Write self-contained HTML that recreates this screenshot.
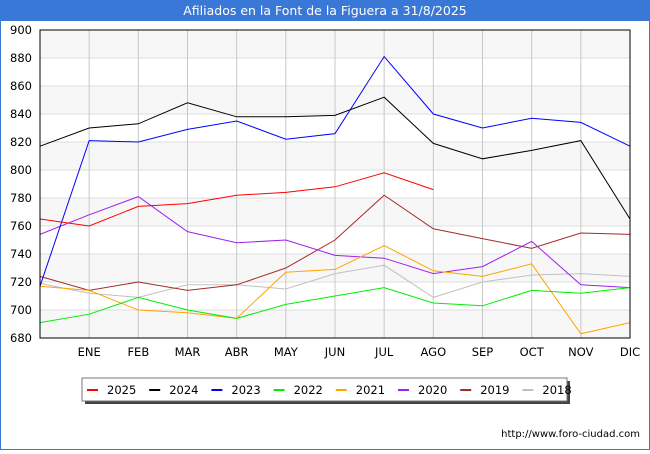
<!DOCTYPE html>
<html><head><meta charset="utf-8"><style>
body{margin:0;background:#fff;}
#wrap{position:relative;width:650px;height:450px;font-family:"DejaVu Sans","Liberation Sans",sans-serif;}
</style></head><body>
<div id="wrap">
<svg id="chart" width="650" height="450" xmlns="http://www.w3.org/2000/svg">
<rect x="0" y="0" width="650" height="450" fill="#fff" stroke="#3a78d8" stroke-width="2"/>
<rect x="0" y="0" width="650" height="21" fill="#3a78d8"/>
<text x="325" y="15" text-anchor="middle" fill="#fff" font-size="12.5">Afiliados en la Font de la Figuera a 31/8/2025</text>
<g id="bands"></g><g id="grid"></g><g id="axes"></g><g id="series"></g>
<rect x="40" y="30" width="590" height="308" fill="none" stroke="#000" stroke-width="1"/>
<rect x="85" y="381" width="485" height="23" fill="#444"/>
<rect x="82" y="378" width="485" height="23" fill="#fff" stroke="#777"/>
<g id="legend"></g>
<text x="640" y="437" text-anchor="end" font-size="10" fill="#000">http://www.foro-ciudad.com</text>
</svg>
</div>
<script>
const months = ["", "ENE","FEB","MAR","ABR","MAY","JUN","JUL","AGO","SEP","OCT","NOV","DIC"];
const yTicks = [680,700,720,740,760,780,800,820,840,860,880,900];
const seriesNames = ["2025","2024","2023","2022","2021","2020","2019","2018"];
const seriesColors = ["#ff0000","#000000","#0000ff","#00ee00","#ffa500","#a020f0","#a52a2a","#c0c0c0"];
const v2025 = [765,760,774,776,782,784,788,798,786];
const v2024 = [817,830,833,848,838,838,839,852,819,808,814,821,765];
const v2023 = [717,821,820,829,835,822,826,881,840,830,837,834,817];
const v2022 = [691,697,709,700,694,704,710,716,705,703,714,712,716];
const v2021 = [717,714,700,698,694,727,729,746,728,724,733,683,691];
const v2020 = [754,768,781,756,748,750,739,737,726,731,749,718,716];
const v2019 = [724,714,720,714,718,730,750,782,758,751,744,755,754];
const v2018 = [719,712,709,718,718,715,726,732,709,720,725,726,724];
const allSeries = [v2025,v2024,v2023,v2022,v2021,v2020,v2019,v2018];

const NS="http://www.w3.org/2000/svg";
const X0=40,X1=630,Y0=338,Y1=30,YMIN=680,YMAX=900;
const xs=i=>X0+(X1-X0)*i/(months.length-1);
const ys=v=>Y0-(v-YMIN)/(YMAX-YMIN)*(Y0-Y1);
function mk(tag,attrs,parent){const e=document.createElementNS(NS,tag);for(const k in attrs)e.setAttribute(k,attrs[k]);document.getElementById(parent).appendChild(e);return e;}

for(let i=0;i<yTicks.length-1;i++){
  if((yTicks.length-2-i)%2===0){
    const b=mk("rect",{x:X0,y:ys(yTicks[i+1]),width:X1-X0,height:ys(yTicks[i])-ys(yTicks[i+1]),fill:"#f7f7f7"},"bands");
    
    
  }
}
yTicks.forEach(t=>{
  const l=mk("line",{x1:X0,x2:X1,y1:ys(t),y2:ys(t),stroke:"#ddd","stroke-width":1},"grid");
  
  
  const tx=mk("text",{x:X0-8,y:ys(t)+4,"text-anchor":"end","font-size":"11.5",fill:"#000"},"axes");
  tx.textContent=t;
  
  
});
months.forEach((m,i)=>{
  if(i===0)return;
  const l=mk("line",{x1:xs(i),x2:xs(i),y1:Y1,y2:Y0,stroke:"#c8c8c8","stroke-width":1},"grid");
  
  
  const tx=mk("text",{x:xs(i),y:356,"text-anchor":"middle","font-size":"11.5",fill:"#000"},"axes");
  tx.textContent=m;
  
  
});
for(let s=allSeries.length-1;s>=0;s--){
  const pts=allSeries[s].map((v,i)=>xs(i)+","+ys(v)).join(" ");
  const p=mk("polyline",{points:pts,fill:"none",stroke:seriesColors[s],"stroke-width":1},"series");
  
  
}
seriesNames.forEach((n,i)=>{
  const x=87+i*62.2;
  const r=mk("rect",{x:x,y:389,width:11,height:2,fill:seriesColors[i]},"legend");
  
  
  const t=mk("text",{x:x+20,y:394,"font-size":"11.5",fill:"#000"},"legend");
  t.textContent=n;
  
  
});
</script>
</body></html>
